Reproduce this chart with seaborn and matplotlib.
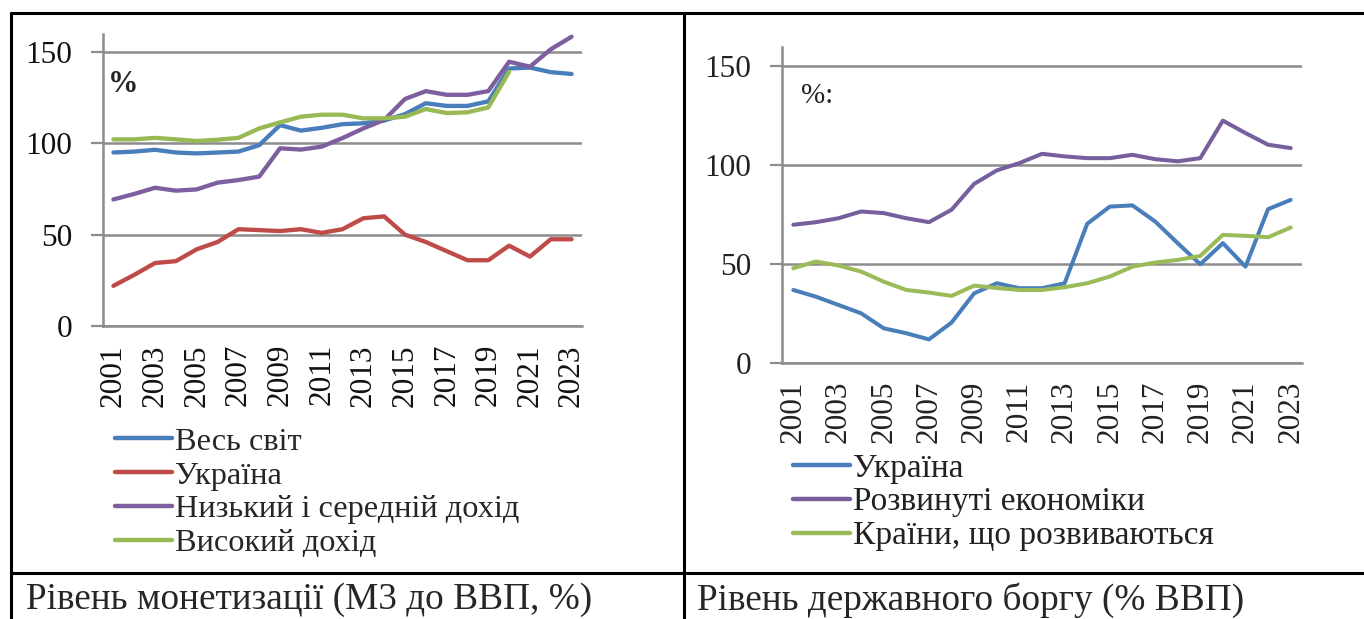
import numpy as np
import pandas as pd
import matplotlib
matplotlib.use("Agg")
import matplotlib.pyplot as plt
import seaborn as sns
from matplotlib.lines import Line2D

# ---------------- data ----------------
years = list(range(2001, 2024))

labels_m3 = ["Весь світ", "Україна", "Низький і середній дохід", "Високий дохід"]
m3_world = [95, 95.5, 96.5, 95, 94.5, 95, 95.5, 99, 110, 107, 108.5, 110.5,
            111, 112.5, 116, 122, 120.5, 120.5, 123, 141, 141.5, 139, 138]
m3_ukraine = [22, 28, 34.5, 35.5, 42, 46, 53, 52.5, 52, 53, 51, 53,
              59, 60, 50, 46, 41, 36, 36, 44, 38, 47.5, 47.5]
m3_lmi = [69.3, 72.3, 75.7, 74.1, 74.8, 78.5, 79.9, 81.8, 97.3, 96.6, 98.2, 102.9,
          108.2, 112.8, 124.3, 128.6, 126.6, 126.6, 128.6, 144.7, 142, 151.5, 158.4]
m3_high = [102.2, 102.2, 103, 102.2, 101.3, 102, 103, 108.2, 111.5, 114.6, 115.7, 115.7,
           113.7, 113.7, 114.6, 118.8, 116.6, 117, 119.7, 139.2, np.nan, np.nan, np.nan]

labels_debt = ["Україна", "Розвинуті економіки", "Країни, що розвиваються"]
debt_ukraine = [36.8, 33.4, 29.2, 25, 17.4, 14.9, 11.8, 20.3, 35.1, 40.2, 37.7, 37.7,
                40.2, 70.3, 79, 79.6, 71.5, 60.5, 49.8, 60.5, 48.6, 77.7, 82.4]
debt_adv = [69.8, 71.1, 73.1, 76.5, 75.7, 73.1, 71.1, 77.4, 90.5, 97.3, 101, 105.7,
            104.4, 103.5, 103.5, 105.2, 103, 101.9, 103.5, 122.5, 116.2, 110.3, 108.6]
debt_em = [47.8, 51.2, 49.2, 46.1, 41, 36.8, 35.5, 33.8, 39, 37.8, 36.8, 36.8,
           38.2, 40.2, 43.6, 48.6, 50.7, 52, 54, 64.7, 64.2, 63.5, 68.4]

yticks = [0, 50, 100, 150]
caption_left = "Рівень монетизації (М3 до ВВП, %)"
caption_right = "Рівень державного боргу (% ВВП)"

# ---------------- styling ----------------
sns.set_style("white")
plt.rcParams['font.family'] = ['Liberation Serif', 'DejaVu Serif']

colors_m3 = ["#4A7EBB", "#BE4B48", "#7D5FA0", "#98B954"]
colors_debt = ["#4A7EBB", "#775E9C", "#9BBB59"]
GRAY = "#8C8C8C"

W, H = 1364, 619
fig = plt.figure(figsize=(W / 100, H / 100), dpi=100)


def ax_rect(x0, x1, y_top, y_bot):
    return [x0 / W, 1 - y_bot / H, (x1 - x0) / W, (y_bot - y_top) / H]


def long_df(series, labels):
    rows = []
    for lab, vals in zip(labels, series):
        for y, v in zip(years, vals):
            rows.append({"year": y, "value": v, "series": lab})
    return pd.DataFrame(rows)


def style_axis(ax, txtcol):
    ax.set_xlim(2000.5, 2023.5)
    ax.set_ylim(0, 160)
    ax.set_yticks(yticks)
    ax.set_yticklabels([str(t) for t in yticks])
    ax.set_xticks(years[::2])
    ax.set_xticklabels([str(y) for y in years[::2]], rotation=90)
    ax.set_xticks(np.arange(2000.5, 2024, 1.0), minor=True)
    ax.tick_params(axis='x', which='major', length=0, pad=13, labelsize=22.5, colors=txtcol)
    ax.tick_params(axis='x', which='minor', length=7, width=1.6, color=GRAY, direction='out')
    ax.tick_params(axis='y', which='major', length=9, width=1.6, color=GRAY, direction='out',
                   pad=13, labelsize=22.5, labelcolor=txtcol, left=True)
    ax.yaxis.grid(True, color=GRAY, linewidth=1.8)
    ax.xaxis.grid(False)
    ax.set_axisbelow(True)
    for s in ["top", "right"]:
        ax.spines[s].set_visible(False)
    for s in ["left", "bottom"]:
        ax.spines[s].set_color(GRAY)
        ax.spines[s].set_linewidth(1.8)
    ax.set_xlabel("")
    ax.set_ylabel("")
    ax.set_facecolor("none")


# ---------------- left chart ----------------
axL = fig.add_axes(ax_rect(103, 582, 33.8, 326), zorder=2)
dfL = long_df([m3_world, m3_ukraine, m3_lmi, m3_high], labels_m3)
sns.lineplot(data=dfL, x="year", y="value", hue="series", hue_order=labels_m3,
             palette=colors_m3, linewidth=3.1, ax=axL, legend=True)
legL = axL.get_legend()
hL = legL.legend_handles
labL = [t.get_text() for t in legL.get_texts()]
legL.remove()
style_axis(axL, "#111111")
for h in hL:
    h.set_linewidth(3.2)
fig.legend(hL, labL, loc="upper left", bbox_to_anchor=(115 / W, 1 - 427 / H),
           frameon=False, fontsize=23.3, handlelength=1.75, handletextpad=0.1,
           labelspacing=0.13, borderpad=0, borderaxespad=0)
fig.text(108 / W, 1 - 85 / H, "%", fontsize=22, fontweight="bold", ha="left", va="center")

# ---------------- right chart ----------------
axR = fig.add_axes(ax_rect(782, 1302, 46.5, 362.7), zorder=2)
dfR = long_df([debt_ukraine, debt_adv, debt_em], labels_debt)
sns.lineplot(data=dfR, x="year", y="value", hue="series", hue_order=labels_debt,
             palette=colors_debt, linewidth=2.9, ax=axR, legend=True)
legR = axR.get_legend()
hR = legR.legend_handles
labR = [t.get_text() for t in legR.get_texts()]
legR.remove()
style_axis(axR, "#222222")
for h in hR:
    h.set_linewidth(3.2)
fig.legend(hR, labR, loc="upper left", bbox_to_anchor=(793 / W, 1 - 453 / H),
           frameon=False, fontsize=24, handlelength=1.7, handletextpad=0.1,
           labelspacing=0.1, borderpad=0, borderaxespad=0, labelcolor="#222222")
fig.text(801 / W, 1 - 96 / H, "%:", fontsize=21, ha="left", va="center", color="#222222")

# ---------------- table frame and captions ----------------
axT = fig.add_axes([0, 0, 1, 1], zorder=3)
axT.set_xlim(0, W)
axT.set_ylim(H, 0)
axT.axis("off")
axT.set_facecolor("none")
for (x0, y0, x1, y1) in [(11, 13, 1364, 13), (11, 13, 11, 619), (684, 13, 684, 619),
                         (11, 573, 1364, 573)]:
    axT.add_line(Line2D([x0, x1], [y0, y1], color="black", linewidth=2.2))

fig.text(26 / W, 1 - 600 / H, caption_left, fontsize=26.8, ha="left", va="center")
fig.text(697 / W, 1 - 600 / H, caption_right, fontsize=26.8, ha="left", va="center")

fig.savefig("out.png", dpi=100)
